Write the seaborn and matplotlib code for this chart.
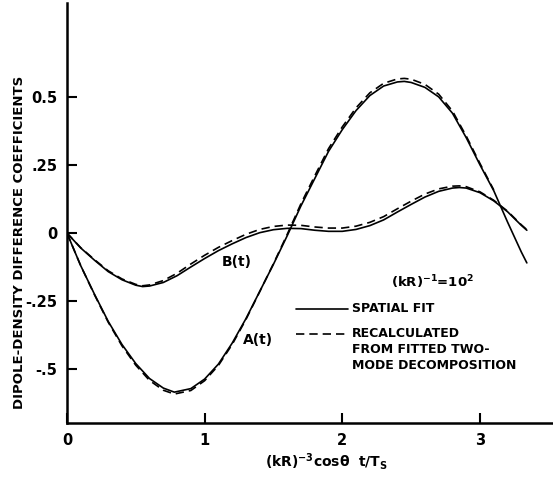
import numpy as np
import pandas as pd
import matplotlib
matplotlib.use("Agg")
import matplotlib.pyplot as plt
import seaborn as sns
from matplotlib.lines import Line2D

# values
a_x = [0.0, 0.1, 0.2, 0.3, 0.4, 0.5, 0.6, 0.7, 0.78, 0.9, 1.0, 1.1, 1.2, 1.3, 1.4, 1.5,
       1.6, 1.7, 1.8, 1.9, 2.0, 2.1, 2.2, 2.3, 2.4, 2.45, 2.5, 2.6, 2.7, 2.8, 2.9, 3.0,
       3.1, 3.2, 3.3, 3.34]
a_fit = [0.0, -0.12, -0.225, -0.325, -0.41, -0.48, -0.535, -0.57, -0.585, -0.572, -0.537,
         -0.482, -0.405, -0.315, -0.215, -0.115, -0.01, 0.10, 0.20, 0.30, 0.38, 0.45,
         0.505, 0.54, 0.555, 0.557, 0.553, 0.535, 0.50, 0.44, 0.35, 0.25, 0.155, 0.04,
         -0.07, -0.11]
a_recalc = [0.0, -0.12, -0.227, -0.328, -0.415, -0.486, -0.542, -0.578, -0.592, -0.579,
            -0.543, -0.487, -0.41, -0.318, -0.216, -0.113, -0.005, 0.108, 0.21, 0.31,
            0.39, 0.46, 0.515, 0.55, 0.566, 0.568, 0.565, 0.546, 0.51, 0.448, 0.356,
            0.255, 0.158, None, None, None]

b_x = [0.0, 0.1, 0.2, 0.3, 0.4, 0.5, 0.55, 0.6, 0.7, 0.8, 0.9, 1.0, 1.1, 1.2, 1.3, 1.4,
       1.5, 1.6, 1.7, 1.8, 1.9, 2.0, 2.1, 2.2, 2.3, 2.4, 2.5, 2.6, 2.7, 2.8, 2.85, 2.9,
       3.0, 3.1, 3.2, 3.3, 3.34]
b_fit = [0.0, -0.055, -0.10, -0.142, -0.172, -0.192, -0.197, -0.195, -0.182, -0.157,
         -0.125, -0.094, -0.065, -0.04, -0.017, 0.001, 0.012, 0.017, 0.016, 0.01, 0.006,
         0.006, 0.013, 0.027, 0.048, 0.077, 0.105, 0.132, 0.153, 0.165, 0.167, 0.165,
         0.148, 0.118, 0.078, 0.028, 0.01]
b_recalc = [0.0, -0.054, -0.098, -0.139, -0.169, -0.189, -0.194, -0.191, -0.175, -0.148,
            -0.114, -0.082, -0.053, -0.028, -0.005, 0.013, 0.024, 0.029, 0.028, 0.022,
            0.018, 0.018, 0.025, 0.039, 0.06, 0.089, 0.117, 0.143, 0.162, 0.172, 0.173,
            0.17, 0.151, 0.12, 0.08, 0.03, 0.012]

x_ticks = [0, 1, 2, 3]
x_ticklabels = ["0", "1", "2", "3"]
y_ticks = [-0.5, -0.25, 0, 0.25, 0.5]
y_ticklabels = ["-.5", "-.25", "0", ".25", "0.5"]

sns.set_style("ticks")
plt.rcParams['font.family'] = ['DejaVu Sans']
plt.rcParams['font.weight'] = 'bold'
plt.rcParams['axes.labelweight'] = 'bold'
plt.rcParams['text.color'] = 'black'
plt.rcParams['axes.labelcolor'] = 'black'
plt.rcParams['mathtext.default'] = 'bf'

fig = plt.figure(figsize=(5.53, 4.78), dpi=100)
ax = fig.add_axes([0.121, 0.115, 0.879, 0.879])

dfa = pd.DataFrame({"x": a_x, "fit": a_fit, "recalc": a_recalc}).astype(float)
dfb = pd.DataFrame({"x": b_x, "fit": b_fit, "recalc": b_recalc}).astype(float)

sns.lineplot(data=dfa, x="x", y="fit", ax=ax, color="black", lw=1.2, sort=False)
sns.lineplot(data=dfa.dropna(), x="x", y="recalc", ax=ax, color="black", lw=1.2,
             linestyle=(0, (5, 3)), sort=False)
sns.lineplot(data=dfb, x="x", y="fit", ax=ax, color="black", lw=1.2, sort=False)
sns.lineplot(data=dfb, x="x", y="recalc", ax=ax, color="black", lw=1.2,
             linestyle=(0, (5, 3)), sort=False)

ax.set_xlim(0, 3.53)
ax.set_ylim(-0.6985, 0.8456)
sns.despine(ax=ax)
for s in ["left", "bottom"]:
    ax.spines[s].set_linewidth(1.8)
    ax.spines[s].set_color("black")

ax.set_xticks(x_ticks)
ax.set_xticklabels(x_ticklabels)
ax.set_yticks(y_ticks)
ax.set_yticklabels(y_ticklabels)
ax.tick_params(direction="in", length=7, width=1.5, labelsize=10.5, colors="black", pad=7)

ax.set_xlabel("(kR)$^{-3}$cos$\\theta$  t/T$_S$", fontsize=10)
ax.xaxis.set_label_coords(0.533, -0.066)
ax.set_ylabel("DIPOLE-DENSITY DIFFERENCE COEFFICIENTS", fontsize=9.5)
ax.yaxis.set_label_coords(-0.084, 0.431)

ax.text(1.236, -0.107, "B(t)", fontsize=10, ha="center", va="center")
ax.text(1.39, -0.393, "A(t)", fontsize=10, ha="center", va="center")
ax.text(2.35, -0.18, "(kR)$^{-1}$=10$^{2}$", fontsize=9.5, ha="left", va="center")

# key
ax.add_line(Line2D([0.471, 0.578], [0.272, 0.272], transform=ax.transAxes,
                   color="black", lw=1.2))
ax.add_line(Line2D([0.471, 0.578], [0.212, 0.212], transform=ax.transAxes,
                   color="black", lw=1.2, linestyle=(0, (5, 3))))
ax.text(0.586, 0.272, "SPATIAL FIT", transform=ax.transAxes, fontsize=9,
        va="center", ha="left")
ax.text(0.586, 0.229, "RECALCULATED\nFROM FITTED TWO-\nMODE DECOMPOSITION",
        transform=ax.transAxes, fontsize=9, va="top", ha="left", linespacing=1.3)

fig.savefig("out.png", dpi=100)
